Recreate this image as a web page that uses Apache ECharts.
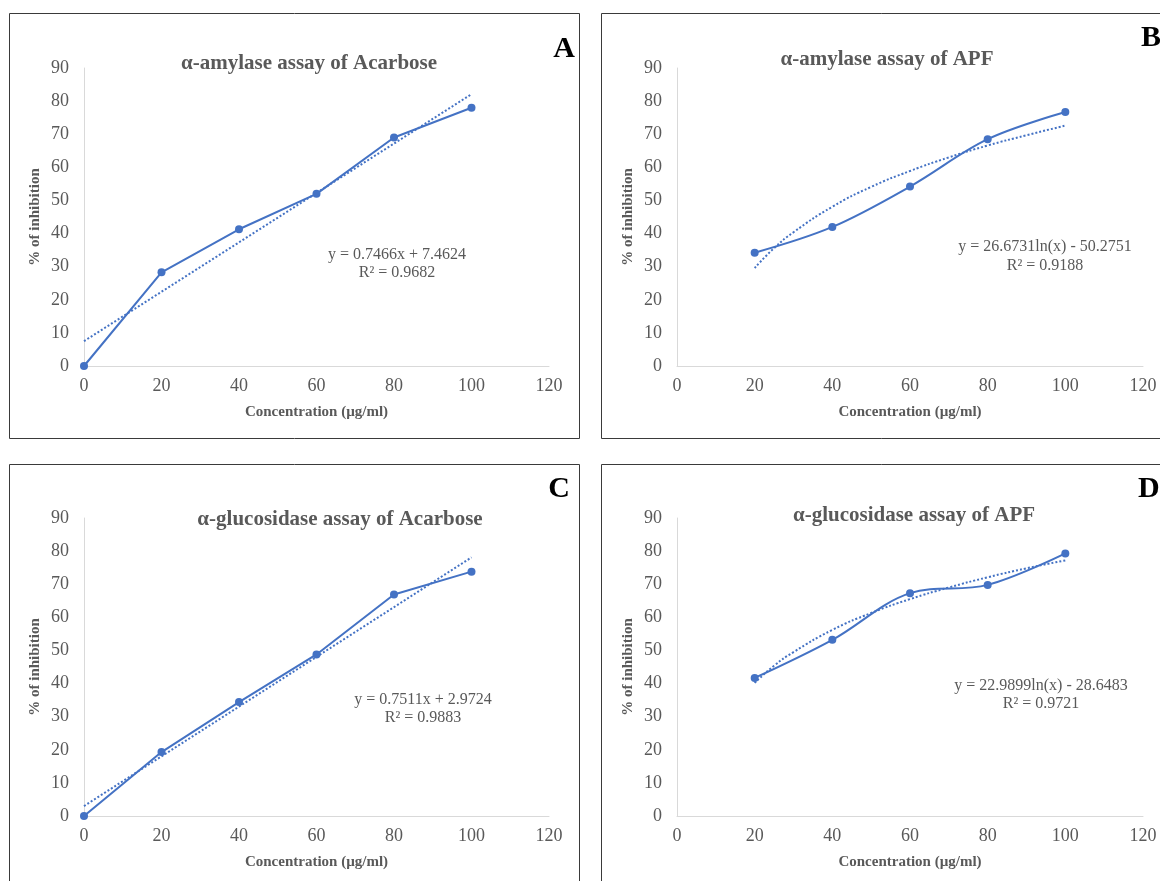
<!DOCTYPE html>
<html><head><meta charset="utf-8">
<script src="https://cdn.jsdelivr.net/npm/echarts@6/dist/echarts.min.js"></script>
<style>html,body{margin:0;padding:0;background:#fff}#c{width:1160px;height:881px}</style>
</head><body><div id="c"></div>
<script>
// ---- data ----
const concA = [0, 20, 40, 60, 80, 100];
const inhibA = [0, 28.3, 41.3, 52.0, 69.0, 78.0];
const trendXA = [0, 100];
const trendYA = [7.5, 82.1];

const concB = [20, 40, 60, 80, 100];
const inhibB = [34.2, 42.0, 54.2, 68.5, 76.7];
const trendXB = [20, 25, 30, 40, 50, 60, 70, 80, 90, 100];
const trendYB = [29.6, 35.6, 40.4, 48.1, 54.1, 58.9, 63.0, 66.6, 69.7, 72.6];

const concC = [0, 20, 40, 60, 80, 100];
const inhibC = [0, 19.3, 34.4, 48.8, 66.9, 73.8];
const trendXC = [0, 100];
const trendYC = [3.0, 78.1];

const concD = [20, 40, 60, 80, 100];
const inhibD = [41.7, 53.2, 67.3, 69.8, 79.3];
const trendXD = [20, 25, 30, 40, 50, 60, 70, 80, 90, 100];
const trendYD = [40.2, 45.4, 49.5, 56.2, 61.3, 65.5, 69.0, 72.1, 74.8, 77.2];

const titles = ['α-amylase assay of Acarbose', 'α-amylase assay of APF', 'α-glucosidase assay of Acarbose', 'α-glucosidase assay of APF'];
const equations = ['y = 0.7466x + 7.4624', 'y = 26.6731ln(x) - 50.2751', 'y = 0.7511x + 2.9724', 'y = 22.9899ln(x) - 28.6483'];
const r2s = ['R² = 0.9682', 'R² = 0.9188', 'R² = 0.9883', 'R² = 0.9721'];
const letters = ['A', 'B', 'C', 'D'];
const xName = 'Concentration (µg/ml)';
const yName = '% of inhibition';

// ---- layout ----
const FONT = '"Liberation Serif", "Times New Roman", serif';
const BLUE = '#4472C4';
const GRAY = '#595959';
const grids = [
  {left: 84, top: 68, width: 465, height: 298},
  {left: 677, top: 68, width: 466, height: 298},
  {left: 84, top: 518, width: 465, height: 298},
  {left: 677, top: 518, width: 466, height: 298}
];
const panels = [
  {x: 9.5, y: 13.5, w: 570, h: 425},
  {x: 601.5, y: 13.5, w: 620, h: 425},
  {x: 9.5, y: 464.5, w: 570, h: 440},
  {x: 601.5, y: 464.5, w: 620, h: 440}
];
const titlePos = [[309, 64], [887, 60], [340, 520], [914, 516]];
const eqPos = [[397, 255, 273], [1045, 247, 266], [423, 700, 718], [1041, 686, 704]];
const letterPos = [[564, 49, 'center'], [1141, 38, 'left'], [559, 489, 'center'], [1138, 489, 'left']];

const zip = (a, b) => a.map((v, i) => [v, b[i]]);
const sets = [
  [concA, inhibA, trendXA, trendYA, false],
  [concB, inhibB, trendXB, trendYB, true],
  [concC, inhibC, trendXC, trendYC, false],
  [concD, inhibD, trendXD, trendYD, true]
];

const xAxes = [], yAxes = [], series = [], graphic = [];
grids.forEach((g, i) => {
  xAxes.push({
    type: 'value', gridIndex: i, min: 0, max: 120, interval: 20,
    axisLine: {show: true, lineStyle: {color: '#d9d9d9', width: 1}},
    axisTick: {show: false}, splitLine: {show: false},
    axisLabel: {color: GRAY, fontFamily: FONT, fontSize: 18, margin: 11},
    name: xName, nameLocation: 'middle', nameGap: 39,
    nameTextStyle: {color: GRAY, fontFamily: FONT, fontSize: 15, fontWeight: 'bold'}
  });
  yAxes.push({
    type: 'value', gridIndex: i, min: 0, max: 90, interval: 10,
    axisLine: {show: true, lineStyle: {color: '#d9d9d9', width: 1}},
    axisTick: {show: false}, splitLine: {show: false},
    axisLabel: {color: GRAY, fontFamily: FONT, fontSize: 18, margin: 15},
    name: yName, nameLocation: 'middle', nameGap: 41,
    nameTextStyle: {color: GRAY, fontFamily: FONT, fontSize: 15, fontWeight: 'bold'}
  });
  const s = sets[i];
  series.push({
    type: 'line', xAxisIndex: i, yAxisIndex: i, data: zip(s[0], s[1]),
    smooth: s[4] ? 0.35 : false, symbol: 'circle', symbolSize: 8,
    lineStyle: {color: BLUE, width: 2}, itemStyle: {color: BLUE}, z: 3
  });
  series.push({
    type: 'line', xAxisIndex: i, yAxisIndex: i, data: zip(s[2], s[3]),
    smooth: s[4] ? 0.5 : false, symbol: 'none',
    lineStyle: {color: BLUE, width: 2, type: [2, 2]}, z: 2
  });
  const p = panels[i];
  graphic.push({type: 'rect', shape: {x: p.x, y: p.y, width: p.w, height: p.h},
    style: {fill: 'none', stroke: '#3a3a3a', lineWidth: 1}, silent: true, z: 0});
  graphic.push({type: 'text', x: titlePos[i][0], y: titlePos[i][1],
    style: {text: titles[i], fill: GRAY, font: 'bold 21px ' + FONT, textAlign: 'center', textVerticalAlign: 'middle'}});
  graphic.push({type: 'text', x: eqPos[i][0], y: eqPos[i][1],
    style: {text: equations[i], fill: GRAY, font: '16px ' + FONT, textAlign: 'center', textVerticalAlign: 'middle'}});
  graphic.push({type: 'text', x: eqPos[i][0], y: eqPos[i][2],
    style: {text: r2s[i], fill: GRAY, font: '16px ' + FONT, textAlign: 'center', textVerticalAlign: 'middle'}});
  graphic.push({type: 'text', x: letterPos[i][0], y: letterPos[i][1],
    style: {text: letters[i], fill: '#000', font: 'bold 30px ' + FONT, textAlign: letterPos[i][2], textVerticalAlign: 'middle'}});
});

const chart = echarts.init(document.getElementById('c'), null, {renderer: 'canvas'});
chart.setOption({
  animation: false,
  backgroundColor: '#fff',
  grid: grids.map(g => Object.assign({containLabel: false}, g)),
  xAxis: xAxes, yAxis: yAxes, series: series, graphic: graphic
});
</script></body></html>
